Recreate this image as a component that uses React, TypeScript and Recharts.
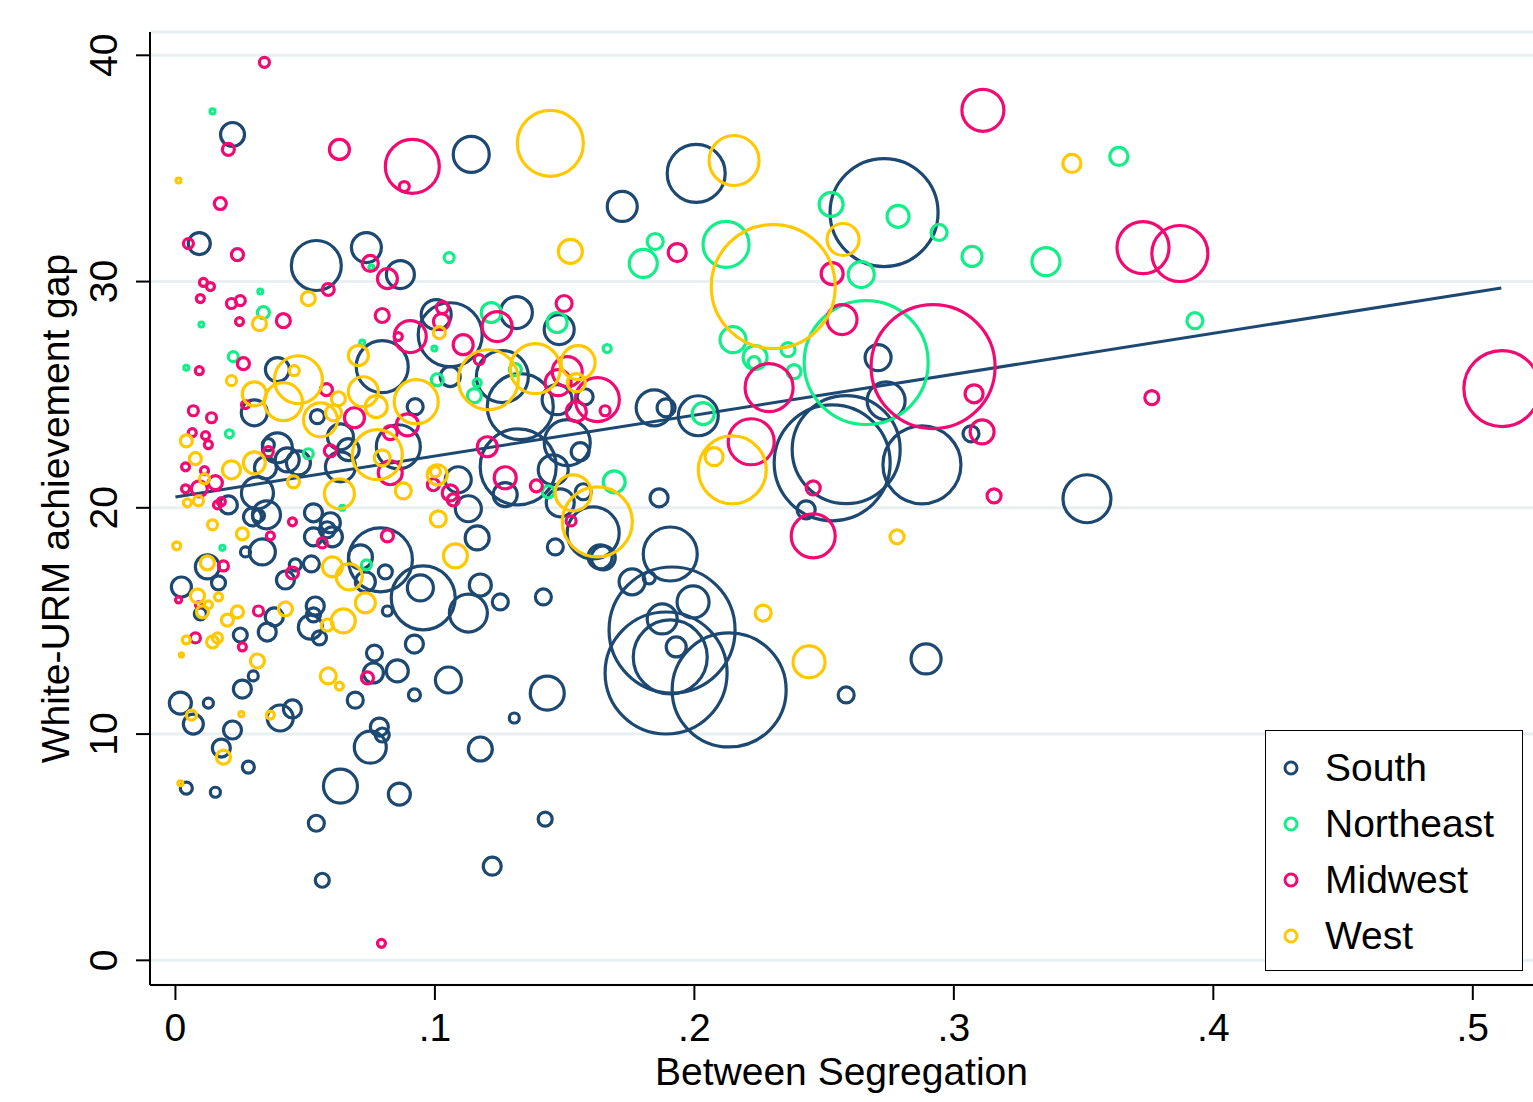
import {
  ScatterChart, Scatter, XAxis, YAxis, ZAxis, CartesianGrid, ReferenceLine, Legend,
} from "recharts";

type Pt = [number, number, number]; // [segregation, gap, weight]

const south: Pt[] = [
  [0.022, 36.5, 1.44], [0.0092, 31.68, 1.21], [0.0543, 30.71, 6.25], [0.0736, 31.5, 2.25],
  [0.0867, 30.31, 1.96], [0.0797, 26.24, 6.76], [0.0393, 26.11, 1.44], [0.0304, 24.2, 1.69],
  [0.0547, 24.03, 0.49], [0.0636, 23.14, 1.69], [0.0393, 22.65, 2.25], [0.0358, 22.79, 0.36],
  [0.0347, 21.77, 1.21], [0.0431, 22.12, 1.44], [0.0474, 21.99, 1.44], [0.0666, 22.57, 1.21],
  [0.0636, 21.81, 2.25], [0.0859, 22.7, 4.84], [0.0204, 20.13, 0.81], [0.0316, 20.66, 2.56],
  [0.0351, 19.69, 1.96], [0.0297, 19.6, 0.81], [0.032, 19.65, 0.36], [0.0532, 19.78, 0.81],
  [0.0597, 19.34, 1], [0.027, 18.05, 0.25], [0.0335, 18.05, 1.69], [0.0123, 17.39, 1.44],
  [0.0023, 16.5, 1], [0.0166, 16.68, 0.49], [0.0096, 15.31, 0.36], [0.0381, 15.18, 0.81],
  [0.0354, 14.51, 0.81], [0.0424, 16.81, 0.81], [0.0462, 17.48, 0.36], [0.0524, 17.52, 0.64],
  [0.0532, 18.72, 0.81], [0.0585, 19.03, 0.64], [0.0605, 18.72, 1], [0.0539, 15.66, 0.81],
  [0.052, 14.73, 1.44], [0.0532, 15.27, 0.49], [0.0555, 14.25, 0.49], [0.079, 17.7, 10.24],
  [0.0713, 17.83, 1.44], [0.0809, 17.17, 0.49], [0.0732, 16.73, 1], [0.0817, 15.44, 0.25],
  [0.025, 14.38, 0.49], [0.03, 12.57, 0.25], [0.0258, 11.99, 0.81], [0.0019, 11.37, 1.21],
  [0.0127, 11.37, 0.25], [0.0069, 10.44, 1], [0.022, 10.18, 0.81], [0.0404, 10.71, 1.69],
  [0.0451, 11.11, 0.81], [0.0177, 9.38, 0.81], [0.0281, 8.54, 0.36], [0.0767, 13.58, 0.64],
  [0.0855, 12.79, 1.21], [0.0763, 12.7, 1], [0.0693, 11.5, 0.64], [0.0786, 10.31, 0.81],
  [0.0797, 9.96, 0.49], [0.0751, 9.42, 2.56], [0.0042, 7.61, 0.36], [0.0154, 7.43, 0.25],
  [0.0636, 7.7, 2.89], [0.0863, 7.35, 1.21], [0.0543, 6.06, 0.64], [0.0566, 3.54, 0.49],
  [0.0955, 16.02, 10.24], [0.0944, 16.46, 1.69], [0.1175, 16.59, 1.21], [0.1129, 15.35, 3.61],
  [0.1252, 15.84, 0.64], [0.1418, 16.06, 0.64], [0.0921, 13.98, 0.81], [0.1052, 12.39, 1.69],
  [0.0921, 11.73, 0.36], [0.1433, 11.81, 2.89], [0.1306, 10.71, 0.25], [0.1175, 9.34, 1.44],
  [0.1425, 6.24, 0.49], [0.1221, 4.16, 0.81], [0.176, 16.73, 1.69], [0.1826, 16.9, 0.36],
  [0.1914, 14.6, 39.69], [0.1891, 12.7, 37.21], [0.2134, 11.95, 32.49], [0.1907, 13.41, 13.69],
  [0.1876, 15.09, 2.25], [0.193, 13.85, 1], [0.1995, 15.84, 2.56], [0.1907, 17.96, 7.29],
  [0.1649, 17.79, 1.44], [0.161, 18.89, 6.76], [0.1572, 20.71, 0.64], [0.1864, 20.44, 0.81],
  [0.2531, 21.99, 33.64], [0.2585, 22.57, 29.16], [0.2877, 21.9, 15.21], [0.2739, 24.73, 3.61],
  [0.2431, 19.91, 0.81], [0.3066, 23.27, 0.64], [0.2893, 13.32, 2.25], [0.2585, 11.73, 0.64],
  [0.2015, 24.07, 4], [0.1845, 24.42, 3.24], [0.1891, 24.42, 0.81], [0.2007, 34.78, 8.41],
  [0.2731, 33.05, 29.16], [0.1722, 33.32, 2.25], [0.114, 35.62, 3.24], [0.3513, 20.4, 5.76],
  [0.2708, 26.64, 1.69], [0.1059, 27.65, 10.24], [0.1005, 28.54, 2.25], [0.1314, 28.63, 2.56],
  [0.1479, 27.88, 2.25], [0.126, 25.8, 6.76], [0.1329, 24.47, 10.89], [0.1321, 21.81, 14.44],
  [0.1471, 24.78, 2.25], [0.1579, 24.91, 0.64], [0.151, 22.88, 5.29], [0.156, 22.48, 0.81],
  [0.1456, 21.68, 2.25], [0.1059, 25.8, 1], [0.0924, 24.47, 0.64], [0.109, 21.24, 1.69],
  [0.1271, 20.58, 1.44], [0.1129, 19.96, 1.69], [0.1163, 18.67, 1.44], [0.1464, 18.27, 0.64],
  [0.1637, 17.83, 1.44], [0.1483, 20.22, 1.96],
];

const northeast: Pt[] = [
  [0.0143, 37.52, 0.06], [0.0755, 30.62, 0.06], [0.0327, 29.56, 0.06], [0.01, 28.1, 0.06],
  [0.0339, 28.63, 0.36], [0.072, 27.3, 0.06], [0.0042, 26.19, 0.06], [0.0223, 26.68, 0.25],
  [0.0208, 23.27, 0.16], [0.0512, 22.39, 0.25], [0.0643, 20.0, 0.06], [0.0181, 18.23, 0.06],
  [0.0736, 17.48, 0.25], [0.1055, 31.06, 0.25], [0.1803, 30.8, 1.96], [0.1849, 31.77, 0.64],
  [0.1217, 28.63, 1], [0.1471, 28.19, 1], [0.0998, 27.04, 0.06], [0.1664, 27.04, 0.16],
  [0.1009, 25.66, 0.36], [0.1163, 25.53, 0.16], [0.1152, 24.96, 0.49], [0.131, 26.11, 0.36],
  [0.1437, 20.71, 0.36], [0.1691, 21.15, 1.21], [0.2034, 24.16, 1.21], [0.2527, 33.41, 1.44],
  [0.2785, 32.88, 1.21], [0.2943, 32.17, 0.64], [0.307, 31.11, 1], [0.2643, 30.31, 1.69],
  [0.2122, 31.64, 5.29], [0.2149, 27.43, 1.69], [0.2234, 26.64, 1.44], [0.223, 26.42, 0.36],
  [0.2361, 26.99, 0.49], [0.2384, 26.02, 0.49], [0.2662, 26.42, 38.44], [0.3355, 30.88, 1.96],
  [0.3636, 35.53, 0.81], [0.3929, 28.27, 0.64],
];

const midwest: Pt[] = [
  [0.0343, 39.69, 0.25], [0.0204, 35.84, 0.36], [0.0632, 35.84, 1], [0.0913, 35.09, 7.29],
  [0.0882, 34.2, 0.25], [0.0173, 33.45, 0.36], [0.005, 31.68, 0.25], [0.0239, 31.19, 0.36],
  [0.0751, 30.8, 0.64], [0.0817, 30.13, 1], [0.0108, 29.96, 0.16], [0.0135, 29.78, 0.16],
  [0.0589, 29.65, 0.36], [0.0096, 29.25, 0.16], [0.0216, 29.03, 0.25], [0.025, 29.16, 0.25],
  [0.0247, 28.23, 0.16], [0.0416, 28.27, 0.49], [0.0797, 28.5, 0.49], [0.0905, 27.57, 2.56],
  [0.0859, 27.57, 0.16], [0.0092, 26.06, 0.16], [0.0262, 26.37, 0.36], [0.027, 24.56, 0.16],
  [0.0582, 25.22, 0.36], [0.069, 23.98, 1], [0.0069, 24.29, 0.25], [0.0139, 23.98, 0.25],
  [0.0065, 23.32, 0.16], [0.0116, 23.19, 0.16], [0.0127, 22.79, 0.16], [0.0358, 22.48, 0.25],
  [0.0597, 22.52, 0.36], [0.0828, 21.55, 1.44], [0.0828, 23.32, 0.49], [0.0894, 23.67, 1.21],
  [0.0039, 21.81, 0.16], [0.0112, 21.64, 0.16], [0.0154, 21.11, 0.49], [0.0092, 20.84, 0.64],
  [0.0039, 20.84, 0.16], [0.0162, 20.13, 0.16], [0.0177, 20.27, 0.16], [0.0451, 19.38, 0.16],
  [0.0366, 18.76, 0.16], [0.0185, 17.43, 0.25], [0.0012, 15.93, 0.09], [0.0089, 15.71, 0.09],
  [0.032, 15.44, 0.25], [0.0451, 17.12, 0.36], [0.0566, 18.45, 0.25], [0.0817, 18.76, 0.36],
  [0.0258, 13.85, 0.16], [0.0077, 14.25, 0.25], [0.074, 12.48, 0.36], [0.0794, 0.75, 0.16],
  [0.1029, 28.85, 0.36], [0.1025, 28.23, 0.64], [0.124, 28.01, 2.25], [0.1498, 29.03, 0.64],
  [0.1109, 27.21, 1], [0.1171, 26.55, 0.25], [0.1475, 25.53, 1.69], [0.151, 26.02, 2.25],
  [0.1626, 24.78, 4.84], [0.1656, 24.29, 0.25], [0.1545, 24.25, 1], [0.1202, 22.7, 1],
  [0.1271, 21.33, 1.21], [0.1391, 20.97, 0.36], [0.1525, 19.42, 0.25], [0.0994, 21.02, 0.36],
  [0.1059, 20.66, 0.64], [0.1071, 20.35, 0.36], [0.1934, 31.28, 0.81], [0.2531, 30.35, 1.21],
  [0.2569, 28.32, 2.25], [0.2288, 25.31, 5.76], [0.2219, 22.92, 5.29], [0.2458, 20.88, 0.49],
  [0.2458, 18.76, 4.84], [0.292, 26.24, 38.44], [0.3078, 25.04, 0.81], [0.3109, 23.36, 1.44],
  [0.3155, 20.53, 0.49], [0.3112, 37.57, 4.41], [0.3729, 31.5, 6.76], [0.3871, 31.24, 7.84],
  [0.3763, 24.87, 0.49], [0.5112, 25.27, 14.44],
];

const west: Pt[] = [
  [0.0012, 34.47, 0.06], [0.0324, 28.14, 0.49], [0.0512, 29.25, 0.49], [0.0216, 25.62, 0.25],
  [0.0458, 26.06, 0.25], [0.0628, 24.82, 0.49], [0.0609, 24.2, 0.64], [0.0705, 26.73, 1],
  [0.0042, 22.96, 0.36], [0.0077, 22.17, 0.36], [0.0112, 21.28, 0.25], [0.0089, 20.31, 0.25],
  [0.0046, 20.22, 0.16], [0.0216, 21.68, 0.81], [0.0455, 21.15, 0.36], [0.0143, 19.25, 0.25],
  [0.0258, 18.85, 0.36], [0.0005, 18.32, 0.16], [0.0123, 17.57, 0.49], [0.0085, 16.11, 0.49],
  [0.0166, 16.06, 0.16], [0.0127, 15.71, 0.16], [0.0104, 15.4, 0.36], [0.02, 15.04, 0.36],
  [0.0239, 15.4, 0.36], [0.0424, 15.53, 0.49], [0.0042, 14.16, 0.16], [0.0143, 14.07, 0.36],
  [0.0162, 14.25, 0.25], [0.0023, 13.5, 0.04], [0.0062, 10.84, 0.25], [0.0254, 10.88, 0.06],
  [0.0366, 10.84, 0.16], [0.0185, 8.98, 0.49], [0.0019, 7.83, 0.06], [0.0632, 12.12, 0.16],
  [0.0585, 14.82, 0.36], [0.0878, 20.75, 0.64], [0.0797, 22.21, 0.64], [0.1002, 21.59, 0.25],
  [0.1017, 27.74, 0.36], [0.1545, 25.53, 0.81], [0.0928, 24.69, 4.84], [0.0474, 25.66, 5.76],
  [0.0416, 24.69, 3.61], [0.0559, 23.89, 2.89], [0.0778, 22.35, 6.25], [0.0632, 20.62, 2.25],
  [0.0724, 25.13, 2.25], [0.0774, 24.47, 1.21], [0.0304, 25.04, 1.44], [0.0304, 21.99, 1.21],
  [0.1206, 25.66, 9], [0.1387, 26.15, 6.25], [0.1552, 26.42, 2.89], [0.1533, 20.66, 3.24],
  [0.1626, 19.38, 12.25], [0.1445, 36.11, 10.89], [0.1522, 31.33, 1.44], [0.2153, 35.35, 6.25],
  [0.2304, 29.78, 38.44], [0.2573, 31.86, 2.56], [0.2146, 21.68, 11.56], [0.2076, 22.26, 0.81],
  [0.2265, 15.35, 0.64], [0.2442, 13.19, 2.56], [0.2781, 18.72, 0.49], [0.3455, 35.22, 0.81],
  [0.1079, 17.88, 1.44], [0.1013, 19.51, 0.64], [0.1009, 21.46, 1], [0.0647, 15.0, 1.44],
  [0.067, 16.95, 1.69], [0.0605, 17.39, 1], [0.0732, 15.8, 1], [0.0589, 12.57, 0.64],
  [0.0316, 13.23, 0.49],
];

// linear fit endpoints
const fitLine = [{ x: 0, y: 20.48 }, { x: 0.511, y: 29.72 }];

const xTicks = [0, 0.1, 0.2, 0.3, 0.4, 0.5];
const yTicks = [0, 10, 20, 30, 40];

const regions = [
  { name: "South", color: "#1c4871", pts: south },
  { name: "Northeast", color: "#12ee88", pts: northeast },
  { name: "Midwest", color: "#f20a72", pts: midwest },
  { name: "West", color: "#ffc800", pts: west },
];

const FONT = '"Liberation Sans", Arial, Helvetica, sans-serif';
const toRows = (pts: Pt[]) => pts.map(([x, y, w]) => ({ x, y, w }));

// hollow ring; radius comes from the ZAxis-scaled symbol area
const Ring = (color: string) => (p: any) => {
  const r = p.size != null ? Math.sqrt(p.size / Math.PI) : (p.width || 0) / 2;
  return <circle cx={p.cx} cy={p.cy} r={r} fill="none" stroke={color} strokeWidth={3.2} />;
};

function XTick({ x, y, payload }: any) {
  const v = payload.value;
  const txt = v === 0 ? "0" : "." + Math.round(v * 10);
  return <text x={x} y={y + 41} textAnchor="middle" fontSize={39} fill="#000">{txt}</text>;
}

function YTick({ x, y, payload }: any) {
  const bx = x - 19;
  return (
    <text x={bx} y={y} transform={`rotate(-90 ${bx} ${y})`} textAnchor="middle" fontSize={39} fill="#000">
      {payload.value}
    </text>
  );
}

const YLabel = (props: any) => {
  const vb = props.viewBox || {};
  const cy = vb.height ? vb.y + vb.height / 2 : 508.5;
  return (
    <text x={69} y={cy} transform={`rotate(-90 69 ${cy})`} textAnchor="middle" fontSize={39} fill="#000">
      White-URM achievement gap
    </text>
  );
};

function LegendBox() {
  return (
    <div style={{ boxSizing: "border-box", width: 258, height: 241, border: "1.5px solid #000", background: "#fff", position: "relative", fontFamily: FONT }}>
      {regions.map((r, i) => (
        <div key={r.name} style={{ position: "absolute", left: 0, top: 9 + 56 * i, height: 56, display: "flex", alignItems: "center" }}>
          <svg width={50} height={56}>
            <circle cx={25} cy={28} r={6} fill="none" stroke={r.color} strokeWidth={3} />
          </svg>
          <span style={{ fontSize: 39, marginLeft: 9, color: "#000", lineHeight: "56px" }}>{r.name}</span>
        </div>
      ))}
    </div>
  );
}

export default function App() {
  return (
    <div style={{ position: "absolute", left: 0, top: 0, width: 1533, height: 1102, background: "#fff", fontFamily: FONT }}>
      <ScatterChart width={1533} height={1102} margin={{ top: 32, right: 0, bottom: 0, left: 0 }}>
        <CartesianGrid vertical={false} stroke="#e9f0f2" strokeWidth={3} />
        <XAxis
          type="number" dataKey="x" domain={[-0.0098, 0.5232]} ticks={xTicks} height={117}
          tick={<XTick />} tickSize={15} tickMargin={0}
          axisLine={{ stroke: "#000", strokeWidth: 2 }} tickLine={{ stroke: "#000", strokeWidth: 2 }}
          label={{ value: "Between Segregation", position: "insideBottom", offset: 17, fontSize: 39, fill: "#000" }}
        />
        <YAxis
          type="number" dataKey="y" domain={[-1.09, 41.03]} ticks={yTicks} width={150}
          tick={<YTick />} tickSize={14} tickMargin={0}
          axisLine={{ stroke: "#000", strokeWidth: 2 }} tickLine={{ stroke: "#000", strokeWidth: 2 }}
          label={YLabel}
        />
        <ZAxis type="number" dataKey="w" domain={[0, 100]} range={[0, 31416]} />
        {regions.map((r) => (
          <Scatter
            key={r.name} name={r.name} data={toRows(r.pts)}
            fill="none" stroke={r.color} shape={Ring(r.color)} isAnimationActive={false}
          />
        ))}
        <ReferenceLine segment={fitLine} stroke="#1c4871" strokeWidth={3} ifOverflow="visible" />
        <Legend
          layout="vertical" align="center" verticalAlign="middle"
          wrapperStyle={{ left: 1265, top: 730, width: 258, height: 241 }}
          content={() => <LegendBox />}
        />
      </ScatterChart>
    </div>
  );
}
